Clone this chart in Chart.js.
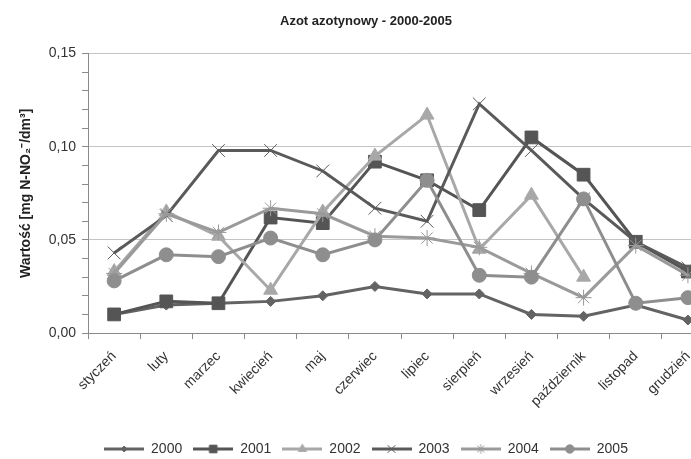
<!DOCTYPE html>
<html>
<head>
<meta charset="utf-8">
<script src="https://cdn.jsdelivr.net/npm/chart.js@4"></script>
<style>
  html, body { margin: 0; padding: 0; background: #fff; overflow: hidden; }
  #wrap { width: 730px; height: 459px; }
</style>
</head>
<body>
<div id="wrap"><canvas id="azot" width="730" height="459"></canvas></div>
<script>
// miesiace
const miesiace = ['styczeń', 'luty', 'marzec', 'kwiecień', 'maj', 'czerwiec',
  'lipiec', 'sierpień', 'wrzesień', 'październik', 'listopad', 'grudzień'];
const lata = ['2000', '2001', '2002', '2003', '2004', '2005'];

// wartosci [mg N-NO2/dm3]
const r2000 = [0.010, 0.015, 0.016, 0.017, 0.020, 0.025, 0.021, 0.021, 0.010, 0.009, 0.015, 0.007];
const r2001 = [0.010, 0.017, 0.016, 0.062, 0.059, 0.092, 0.082, 0.066, 0.105, 0.085, 0.049, 0.033];
const r2002 = [0.033, 0.065, 0.052, 0.023, 0.065, 0.095, 0.117, 0.045, 0.074, 0.030, null, null];
const r2003 = [0.043, 0.063, 0.098, 0.098, 0.087, 0.067, 0.060, 0.123, 0.098, 0.072, 0.049, 0.035];
const r2004 = [0.032, 0.064, 0.054, 0.067, 0.064, 0.052, 0.051, 0.046, 0.032, 0.019, 0.047, 0.031];
const r2005 = [0.028, 0.042, 0.041, 0.051, 0.042, 0.050, 0.082, 0.031, 0.030, 0.072, 0.016, 0.019];

const serie = [r2000, r2001, r2002, r2003, r2004, r2005];
const kolory = ['#636363', '#555555', '#a8a8a8', '#5a5a5a', '#9a9a9a', '#8e8e8e'];
const znaczniki = ['rectRot', 'rect', 'triangle', 'crossRot', 'star', 'circle'];
const promienie = [5, 9, 8, 9, 8, 7];

function ikonaLegendy(i) {
  const c = document.createElement('canvas');
  c.width = 40; c.height = 14;
  const g = c.getContext('2d');
  g.strokeStyle = kolory[i];
  g.fillStyle = kolory[i];
  g.lineWidth = 3;
  g.beginPath(); g.moveTo(0, 7); g.lineTo(40, 7); g.stroke();
  g.lineWidth = 1;
  Chart.helpers.drawPoint(g, { pointStyle: znaczniki[i], radius: promienie[i] * 0.6, rotation: 0, borderWidth: 1 }, 20, 7);
  return c;
}

const fmt = v => v.toFixed(2).replace('.', ',');
const glowna = v => Math.round(v * 100) % 5 === 0;

new Chart(document.getElementById('azot'), {
  type: 'line',
  data: {
    labels: miesiace,
    datasets: serie.map((d, i) => ({
      label: lata[i],
      data: d,
      borderColor: kolory[i],
      backgroundColor: kolory[i],
      borderWidth: 3,
      pointStyle: znaczniki[i],
      pointRadius: promienie[i],
      pointBorderWidth: 1,
      tension: 0,
      order: 6 - i,
    })),
  },
  options: {
    responsive: false,
    animation: false,
    layout: { padding: { left: 18, right: 16, top: 4, bottom: -7 } },
    plugins: {
      title: {
        display: true,
        text: 'Azot azotynowy - 2000-2005',
        font: { family: 'Liberation Sans', size: 13, weight: 'bold' },
        color: '#222',
        padding: { top: 10, bottom: 24 },
      },
      legend: {
        position: 'bottom',
        labels: {
          usePointStyle: true,
          pointStyleWidth: 40,
          font: { family: 'Liberation Sans', size: 14 },
          color: '#333',
          padding: 11,
          sort: (a, b) => a.datasetIndex - b.datasetIndex,
          generateLabels: chart => chart.data.datasets.map((ds, i) => ({
            text: ds.label,
            pointStyle: ikonaLegendy(i),
            fillStyle: kolory[i],
            strokeStyle: kolory[i],
            lineWidth: 0,
            datasetIndex: i,
            fontColor: '#333',
          })),
        },
      },
      tooltip: { enabled: false },
    },
    scales: {
      x: {
        offset: true,
        grid: { offset: true, drawOnChartArea: false, tickColor: '#8a8a8a', tickLength: 6 },
        border: { color: '#8a8a8a' },
        ticks: {
          minRotation: 45, maxRotation: 45, autoSkip: false,
          font: { family: 'Liberation Sans', size: 14 },
          color: '#333',
          padding: 9,
        },
        afterFit: s => { s.height += 12; },
      },
      y: {
        min: 0, max: 0.15,
        border: { color: '#8a8a8a' },
        grid: {
          color: c => glowna(c.tick.value) ? '#c4c4c4' : 'rgba(0,0,0,0)',
          tickColor: '#8a8a8a',
          tickLength: 6,
        },
        ticks: {
          stepSize: 0.01,
          autoSkip: false,
          callback: v => glowna(v) ? fmt(v) : '',
          font: { family: 'Liberation Sans', size: 14 },
          color: '#333',
          padding: 6,
        },
        title: {
          display: true,
          text: 'Wartość [mg N-NO₂⁻/dm³]',
          font: { family: 'Liberation Sans', size: 14, weight: 'bold' },
          color: '#222',
          padding: { top: 0, bottom: 8 },
        },
      },
    },
  },
});
</script>
</body>
</html>
